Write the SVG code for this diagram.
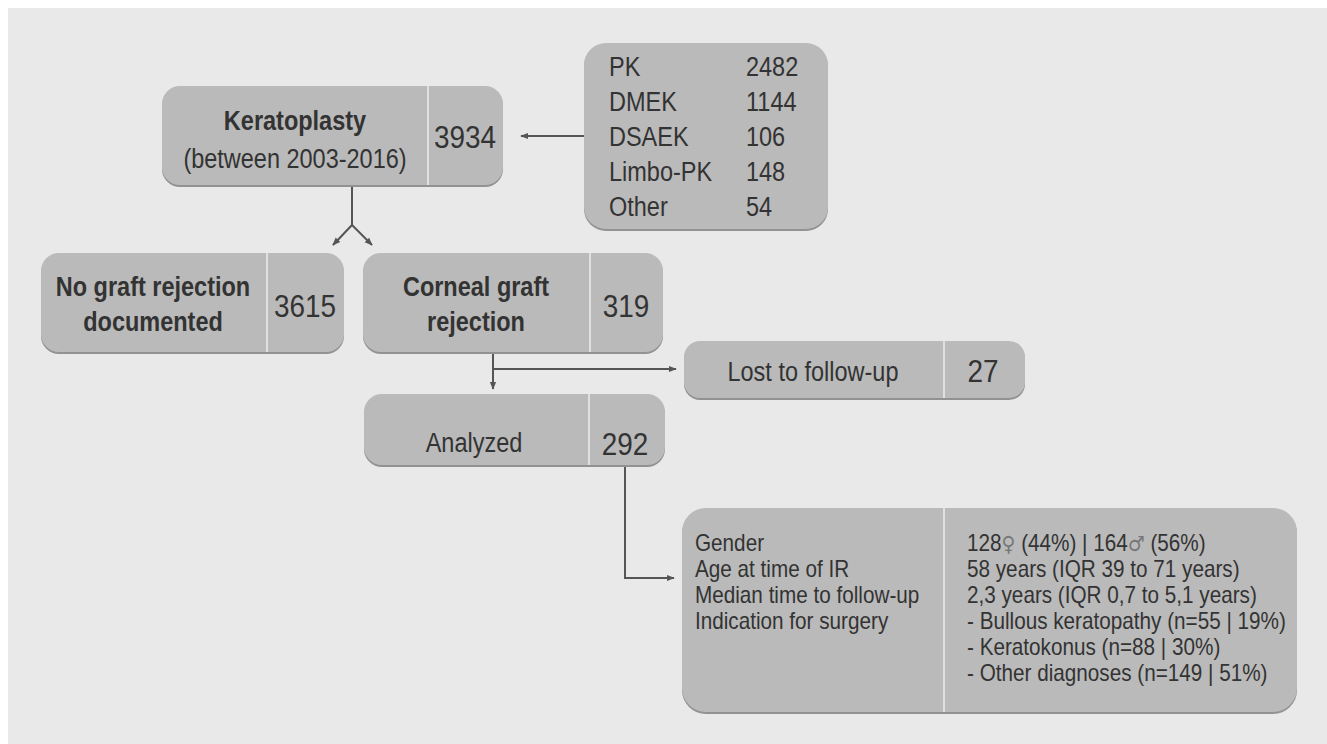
<svg xmlns="http://www.w3.org/2000/svg" width="1327" height="744" viewBox="0 0 1327 744">
<defs>
<style>
.box{fill:#bababa;}
.sh{fill:#929292;}
.div{stroke:#ececec;stroke-width:1.5;}
.t{font-family:"Liberation Sans",Arial,sans-serif;fill:#333;font-size:27px;}
.b{font-weight:bold;}
.n{font-size:31px;}
.s{font-size:23px;}
.c{text-anchor:middle;}
.con{fill:none;stroke:#555;stroke-width:2;}
.sym{font-family:"DejaVu Sans",sans-serif;fill:#777;font-size:21px;}
</style>
<marker id="ah" viewBox="0 0 10 10" refX="9" refY="5" markerWidth="4" markerHeight="4" orient="auto" markerUnits="strokeWidth">
<path d="M0,1 L10,5 L0,9 z" fill="#555"/>
</marker>
</defs>
<rect x="0" y="0" width="1327" height="744" fill="#ffffff"/>
<rect x="8" y="8" width="1319" height="736" fill="#e9e9e9"/>

<g id="connectors">
<path class="con" d="M586,136 L521,136" marker-end="url(#ah)"/>
<path class="con" d="M352,185 L352,225 L333,245" marker-end="url(#ah)"/>
<path class="con" d="M352,225 L372,245" marker-end="url(#ah)"/>
<path class="con" d="M493,352 L493,389" marker-end="url(#ah)"/>
<path class="con" d="M493,369 L676,369" marker-end="url(#ah)"/>
<path class="con" d="M625,465 L625,578 L674,578" marker-end="url(#ah)"/>
</g>

<g id="keratoplasty">
<rect class="sh" x="162" y="88" width="341" height="99" rx="18"/>
<rect class="box" x="162" y="86" width="341" height="99" rx="18"/>
<line class="div" x1="428" y1="86" x2="428" y2="185"/>
<text class="t b c" transform="translate(295,130) scale(0.87,1)">Keratoplasty</text>
<text class="t c" transform="translate(295,168) scale(0.87,1)">(between 2003-2016)</text>
<text class="t n c" transform="translate(465,148) scale(0.9,1)">3934</text>
</g>

<g id="types">
<rect class="sh" x="584" y="45" width="244" height="186" rx="22"/>
<rect class="box" x="584" y="43" width="244" height="186" rx="22"/>
<text class="t" transform="translate(609,76) scale(0.87,1)">PK</text><text class="t" transform="translate(746,76) scale(0.87,1)">2482</text>
<text class="t" transform="translate(609,111) scale(0.87,1)">DMEK</text><text class="t" transform="translate(746,111) scale(0.87,1)">1144</text>
<text class="t" transform="translate(609,146) scale(0.87,1)">DSAEK</text><text class="t" transform="translate(746,146) scale(0.87,1)">106</text>
<text class="t" transform="translate(609,181) scale(0.87,1)">Limbo-PK</text><text class="t" transform="translate(746,181) scale(0.87,1)">148</text>
<text class="t" transform="translate(609,216) scale(0.87,1)">Other</text><text class="t" transform="translate(746,216) scale(0.87,1)">54</text>
</g>

<g id="no-rejection">
<rect class="sh" x="41" y="255" width="303" height="99" rx="18"/>
<rect class="box" x="41" y="253" width="303" height="99" rx="18"/>
<line class="div" x1="267" y1="253" x2="267" y2="352"/>
<text class="t b c" transform="translate(153,296) scale(0.87,1)">No graft rejection</text>
<text class="t b c" transform="translate(153,331) scale(0.87,1)">documented</text>
<text class="t n c" transform="translate(305,317) scale(0.9,1)">3615</text>
</g>

<g id="rejection">
<rect class="sh" x="363" y="255" width="300" height="99" rx="18"/>
<rect class="box" x="363" y="253" width="300" height="99" rx="18"/>
<line class="div" x1="590" y1="253" x2="590" y2="352"/>
<text class="t b c" transform="translate(476,296) scale(0.87,1)">Corneal graft</text>
<text class="t b c" transform="translate(476,331) scale(0.87,1)">rejection</text>
<text class="t n c" transform="translate(626,317) scale(0.9,1)">319</text>
</g>

<g id="lost">
<rect class="sh" x="684" y="343" width="341" height="57" rx="16"/>
<rect class="box" x="684" y="341" width="341" height="57" rx="16"/>
<line class="div" x1="944" y1="341" x2="944" y2="398"/>
<text class="t c" transform="translate(813,381) scale(0.87,1)">Lost to follow-up</text>
<text class="t n c" transform="translate(983,382) scale(0.9,1)">27</text>
</g>

<g id="analyzed">
<rect class="sh" x="364" y="396" width="301" height="71" rx="18"/>
<rect class="box" x="364" y="394" width="301" height="71" rx="18"/>
<line class="div" x1="589" y1="394" x2="589" y2="465"/>
<text class="t c" transform="translate(474,452) scale(0.87,1)">Analyzed</text>
<text class="t n c" transform="translate(625,455) scale(0.9,1)">292</text>
</g>

<g id="details">
<rect class="sh" x="682" y="510" width="615" height="204" rx="24"/>
<rect class="box" x="682" y="508" width="615" height="204" rx="24"/>
<line class="div" x1="944" y1="508" x2="944" y2="712"/>
<text class="t s" transform="translate(695,551) scale(0.9,1)">Gender</text>
<text class="t s" transform="translate(695,577) scale(0.9,1)">Age at time of IR</text>
<text class="t s" transform="translate(695,603) scale(0.9,1)">Median time to follow-up</text>
<text class="t s" transform="translate(695,629) scale(0.9,1)">Indication for surgery</text>
<text class="t s" transform="translate(967,551) scale(0.9,1)">128<tspan class="sym">♀</tspan> (44%)  | 164<tspan class="sym">♂</tspan> (56%)</text>
<text class="t s" transform="translate(967,577) scale(0.9,1)">58 years (IQR 39 to 71 years)</text>
<text class="t s" transform="translate(967,603) scale(0.9,1)">2,3 years (IQR 0,7 to 5,1 years)</text>
<text class="t s" transform="translate(967,629) scale(0.9,1)">- Bullous keratopathy (n=55 | 19%)</text>
<text class="t s" transform="translate(967,655) scale(0.9,1)">- Keratokonus (n=88 | 30%)</text>
<text class="t s" transform="translate(967,681) scale(0.9,1)">- Other diagnoses (n=149 | 51%)</text>
</g>
</svg>
